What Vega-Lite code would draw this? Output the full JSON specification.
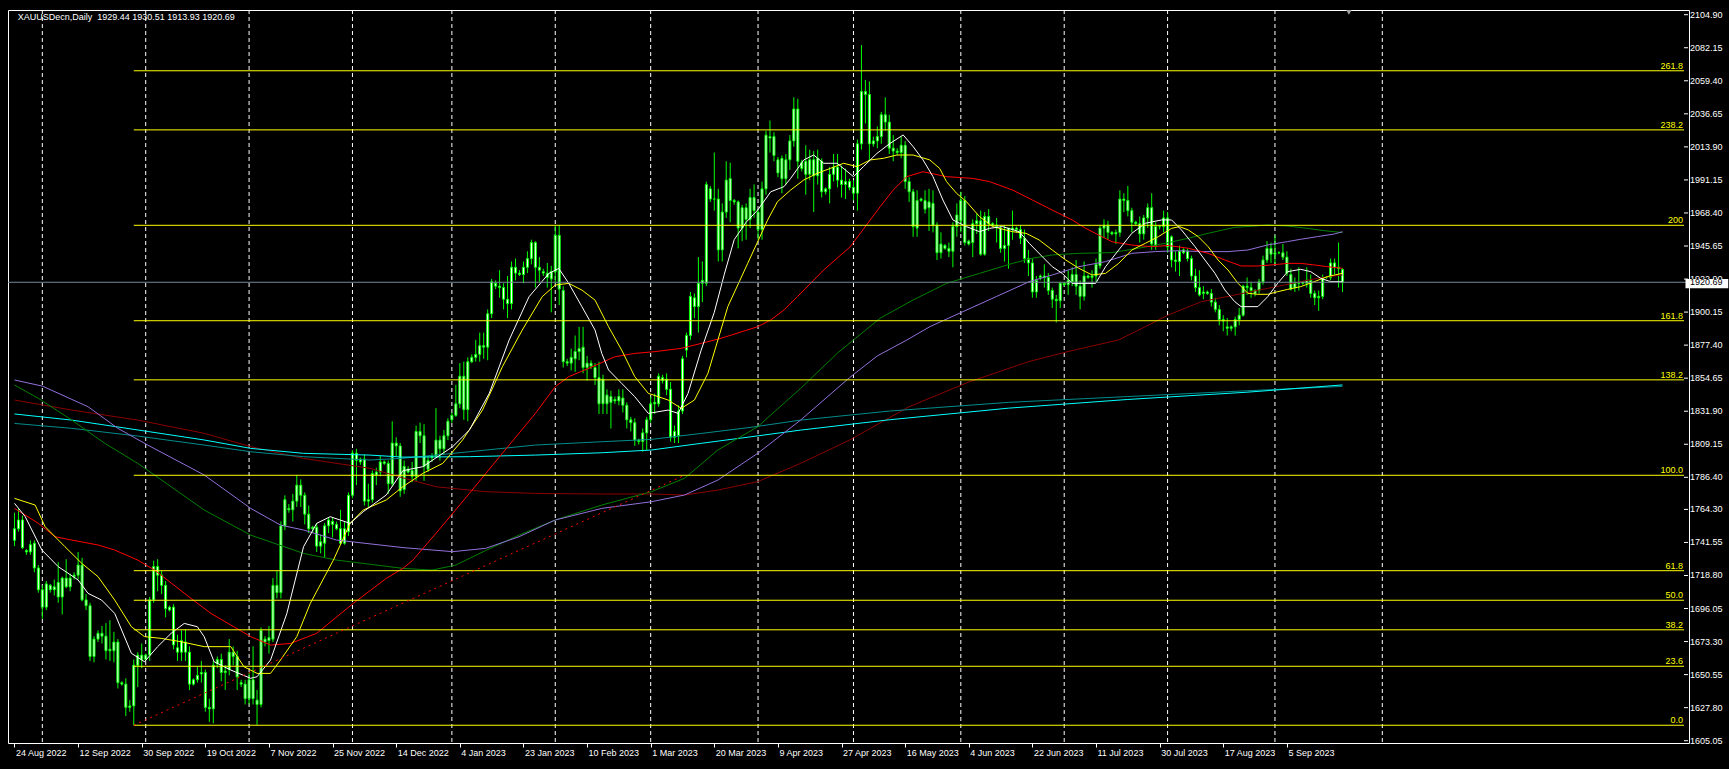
{
 "$schema": "https://vega.github.io/schema/vega-lite/v6.json",
 "width": 1681, "height": 733,
 "autosize": {"type": "none"},
 "padding": {"left": 8, "top": 10, "right": 40, "bottom": 26},
 "background": "#000000",
 "config": {"view": {"stroke": "#ffffff", "strokeWidth": 1, "fill": "#000000"},
   "axis": {"domain": false, "grid": false, "labelColor": "#ffffff", "tickColor": "#ffffff", "labelFont": "Liberation Sans", "labelFontSize": 9, "labelOverlap": false, "labelFlush": false, "tickSize": 4, "title": null}},
 "datasets": {
  "candles": [
{"i":0,"o":1743,"h":1762,"l":1739,"c":1751},{"i":1,"o":1751,"h":1765,"l":1749,"c":1757},{"i":2,"o":1757,"h":1760,"l":1737,"c":1738},{"i":3,"o":1736,"h":1737,"l":1733,"c":1735},{"i":4,"o":1735,"h":1743,"l":1733,"c":1740},{"i":5,"o":1741,"h":1743,"l":1721,"c":1724},{"i":6,"o":1724,"h":1726,"l":1707,"c":1709},{"i":7,"o":1709,"h":1712,"l":1689,"c":1697},{"i":8,"o":1697,"h":1715,"l":1695,"c":1713},{"i":9,"o":1712,"h":1713,"l":1707,"c":1709},
{"i":10,"o":1709,"h":1716,"l":1705,"c":1711},{"i":11,"o":1714,"h":1728,"l":1700,"c":1704},{"i":12,"o":1704,"h":1718,"l":1692,"c":1717},{"i":13,"o":1717,"h":1730,"l":1710,"c":1711},{"i":14,"o":1711,"h":1720,"l":1708,"c":1717},{"i":15,"o":1718,"h":1721,"l":1716,"c":1719},{"i":16,"o":1719,"h":1735,"l":1716,"c":1726},{"i":17,"o":1726,"h":1731,"l":1701,"c":1702},{"i":18,"o":1702,"h":1706,"l":1695,"c":1698},{"i":19,"o":1698,"h":1700,"l":1660,"c":1663},
{"i":20,"o":1663,"h":1677,"l":1659,"c":1675},{"i":21,"o":1675,"h":1681,"l":1673,"c":1679},{"i":22,"o":1679,"h":1684,"l":1672,"c":1677},{"i":23,"o":1677,"h":1686,"l":1661,"c":1667},{"i":24,"o":1667,"h":1688,"l":1660,"c":1668},{"i":25,"o":1667,"h":1680,"l":1659,"c":1673},{"i":26,"o":1673,"h":1675,"l":1641,"c":1645},{"i":27,"o":1645,"h":1646,"l":1643,"c":1644},{"i":28,"o":1644,"h":1648,"l":1622,"c":1628},{"i":29,"o":1628,"h":1633,"l":1625,"c":1629},
{"i":30,"o":1629,"h":1661,"l":1615.7,"c":1657},{"i":31,"o":1657,"h":1666,"l":1642,"c":1664},{"i":32,"o":1664,"h":1672,"l":1655,"c":1661},{"i":33,"o":1661,"h":1665,"l":1660,"c":1664},{"i":34,"o":1664,"h":1704,"l":1660,"c":1702},{"i":35,"o":1702,"h":1729,"l":1700,"c":1725},{"i":36,"o":1725,"h":1730,"l":1708,"c":1719},{"i":37,"o":1719,"h":1722,"l":1706,"c":1712},{"i":38,"o":1712,"h":1715,"l":1690,"c":1696},{"i":39,"o":1695,"h":1698,"l":1694,"c":1697},
{"i":40,"o":1697,"h":1699,"l":1668,"c":1671},{"i":41,"o":1669,"h":1678,"l":1660,"c":1666},{"i":42,"o":1666,"h":1681,"l":1660,"c":1674},{"i":43,"o":1673,"h":1682,"l":1660,"c":1666},{"i":44,"o":1666,"h":1670,"l":1640,"c":1644},{"i":45,"o":1644,"h":1648,"l":1643,"c":1647},{"i":46,"o":1647,"h":1656,"l":1645,"c":1650},{"i":47,"o":1651,"h":1660,"l":1645,"c":1652},{"i":48,"o":1652,"h":1654,"l":1625,"c":1628},{"i":49,"o":1628,"h":1634,"l":1618,"c":1627},
{"i":50,"o":1627,"h":1660,"l":1617,"c":1657},{"i":51,"o":1658,"h":1663,"l":1655,"c":1661},{"i":52,"o":1661,"h":1665,"l":1646,"c":1652},{"i":53,"o":1652,"h":1657,"l":1640,"c":1653},{"i":54,"o":1654,"h":1675,"l":1650,"c":1666},{"i":55,"o":1666,"h":1670,"l":1657,"c":1663},{"i":56,"o":1663,"h":1667,"l":1640,"c":1649},{"i":57,"o":1645,"h":1647,"l":1642,"c":1644},{"i":58,"o":1644,"h":1647,"l":1630,"c":1634},{"i":59,"o":1634,"h":1652,"l":1630,"c":1647},
{"i":60,"o":1647,"h":1670,"l":1630,"c":1634},{"i":61,"o":1633,"h":1640,"l":1616,"c":1630},{"i":62,"o":1630,"h":1683,"l":1628,"c":1681},{"i":63,"o":1675,"h":1677,"l":1670,"c":1673},{"i":64,"o":1674,"h":1684,"l":1665,"c":1676},{"i":65,"o":1675,"h":1717,"l":1673,"c":1712},{"i":66,"o":1712,"h":1722,"l":1703,"c":1707},{"i":67,"o":1707,"h":1756,"l":1703,"c":1753},{"i":68,"o":1753,"h":1774,"l":1750,"c":1771},{"i":69,"o":1765,"h":1768,"l":1762,"c":1764},
{"i":70,"o":1764,"h":1775,"l":1756,"c":1770},{"i":71,"o":1770,"h":1788,"l":1766,"c":1781},{"i":72,"o":1781,"h":1785,"l":1766,"c":1774},{"i":73,"o":1774,"h":1776,"l":1754,"c":1761},{"i":74,"o":1761,"h":1767,"l":1748,"c":1751},{"i":75,"o":1751,"h":1753,"l":1748,"c":1752},{"i":76,"o":1752,"h":1755,"l":1735,"c":1739},{"i":77,"o":1739,"h":1747,"l":1734,"c":1742},{"i":78,"o":1741,"h":1755,"l":1731,"c":1753},{"i":79,"o":1753,"h":1759,"l":1748,"c":1757},
{"i":80,"o":1756,"h":1759,"l":1745,"c":1754},{"i":81,"o":1754,"h":1756,"l":1750,"c":1751},{"i":82,"o":1751,"h":1764,"l":1740,"c":1741},{"i":83,"o":1741,"h":1756,"l":1740,"c":1751},{"i":84,"o":1749,"h":1776,"l":1746,"c":1774},{"i":85,"o":1774,"h":1805,"l":1772,"c":1803},{"i":86,"o":1803,"h":1806,"l":1781,"c":1798},{"i":87,"o":1797,"h":1800,"l":1795,"c":1799},{"i":88,"o":1799,"h":1802,"l":1767,"c":1770},{"i":89,"o":1770,"h":1782,"l":1766,"c":1771},
{"i":90,"o":1771,"h":1791,"l":1769,"c":1789},{"i":91,"o":1788,"h":1793,"l":1781,"c":1790},{"i":92,"o":1790,"h":1801,"l":1787,"c":1797},{"i":93,"o":1797,"h":1798,"l":1795,"c":1796},{"i":94,"o":1796,"h":1798,"l":1775,"c":1782},{"i":95,"o":1782,"h":1825,"l":1780,"c":1810},{"i":96,"o":1810,"h":1814,"l":1801,"c":1808},{"i":97,"o":1808,"h":1810,"l":1773,"c":1777},{"i":98,"o":1778,"h":1798,"l":1775,"c":1794},{"i":99,"o":1792,"h":1794,"l":1789,"c":1790},
{"i":100,"o":1791,"h":1797,"l":1783,"c":1787},{"i":101,"o":1787,"h":1822,"l":1784,"c":1818},{"i":102,"o":1818,"h":1824,"l":1810,"c":1815},{"i":103,"o":1815,"h":1823,"l":1784,"c":1794},{"i":104,"o":1792,"h":1801,"l":1790,"c":1798},{"i":105,"o":1800,"h":1803,"l":1797,"c":1801},{"i":106,"o":1801,"h":1834,"l":1800,"c":1812},{"i":107,"o":1812,"h":1815,"l":1798,"c":1806},{"i":108,"o":1806,"h":1819,"l":1802,"c":1815},{"i":109,"o":1815,"h":1827,"l":1812,"c":1825},
{"i":110,"o":1826,"h":1831,"l":1824,"c":1829},{"i":111,"o":1829,"h":1850,"l":1828,"c":1837},{"i":112,"o":1837,"h":1865,"l":1834,"c":1856},{"i":113,"o":1856,"h":1866,"l":1826,"c":1833},{"i":114,"o":1833,"h":1869,"l":1825,"c":1866},{"i":115,"o":1866,"h":1871,"l":1865,"c":1869},{"i":116,"o":1869,"h":1881,"l":1866,"c":1871},{"i":117,"o":1871,"h":1886,"l":1866,"c":1877},{"i":118,"o":1877,"h":1886,"l":1868,"c":1876},{"i":119,"o":1876,"h":1902,"l":1867,"c":1899},
{"i":120,"o":1899,"h":1923,"l":1896,"c":1921},{"i":121,"o":1920,"h":1922,"l":1916,"c":1918},{"i":122,"o":1918,"h":1929,"l":1910,"c":1917},{"i":123,"o":1917,"h":1920,"l":1902,"c":1909},{"i":124,"o":1909,"h":1925,"l":1896,"c":1906},{"i":125,"o":1906,"h":1935,"l":1902,"c":1931},{"i":126,"o":1931,"h":1937,"l":1922,"c":1927},{"i":127,"o":1927,"h":1929,"l":1925,"c":1926},{"i":128,"o":1926,"h":1935,"l":1920,"c":1931},{"i":129,"o":1931,"h":1942,"l":1927,"c":1937},
{"i":130,"o":1937,"h":1950,"l":1933,"c":1948},{"i":131,"o":1948,"h":1949,"l":1917,"c":1931},{"i":132,"o":1931,"h":1938,"l":1921,"c":1929},{"i":133,"o":1928,"h":1930,"l":1925,"c":1927},{"i":134,"o":1927,"h":1934,"l":1917,"c":1924},{"i":135,"o":1923,"h":1932,"l":1900,"c":1928},{"i":136,"o":1928,"h":1960,"l":1920,"c":1953},{"i":137,"o":1953,"h":1960,"l":1905,"c":1916},{"i":138,"o":1915,"h":1918,"l":1862,"c":1866},{"i":139,"o":1866,"h":1868,"l":1863,"c":1865},
{"i":140,"o":1865,"h":1875,"l":1860,"c":1869},{"i":141,"o":1868,"h":1884,"l":1859,"c":1873},{"i":142,"o":1873,"h":1890,"l":1867,"c":1875},{"i":143,"o":1876,"h":1890,"l":1858,"c":1862},{"i":144,"o":1862,"h":1870,"l":1853,"c":1865},{"i":145,"o":1865,"h":1867,"l":1861,"c":1863},{"i":146,"o":1862,"h":1865,"l":1850,"c":1855},{"i":147,"o":1855,"h":1866,"l":1830,"c":1837},{"i":148,"o":1854,"h":1857,"l":1830,"c":1837},{"i":149,"o":1837,"h":1847,"l":1830,"c":1843},
{"i":150,"o":1842,"h":1846,"l":1820,"c":1838},{"i":151,"o":1840,"h":1842,"l":1837,"c":1839},{"i":152,"o":1839,"h":1847,"l":1836,"c":1842},{"i":153,"o":1841,"h":1847,"l":1831,"c":1836},{"i":154,"o":1836,"h":1838,"l":1820,"c":1826},{"i":155,"o":1826,"h":1828,"l":1818,"c":1824},{"i":156,"o":1824,"h":1827,"l":1808,"c":1812},{"i":157,"o":1812,"h":1813,"l":1809,"c":1811},{"i":158,"o":1811,"h":1820,"l":1804,"c":1817},{"i":159,"o":1817,"h":1828,"l":1805,"c":1826},
{"i":160,"o":1826,"h":1842,"l":1824,"c":1837},{"i":161,"o":1837,"h":1844,"l":1830,"c":1838},{"i":162,"o":1837,"h":1858,"l":1835,"c":1856},{"i":163,"o":1855,"h":1857,"l":1851,"c":1853},{"i":164,"o":1854,"h":1858,"l":1843,"c":1847},{"i":165,"o":1847,"h":1852,"l":1811,"c":1814},{"i":166,"o":1814,"h":1822,"l":1810,"c":1818},{"i":167,"o":1815,"h":1836,"l":1810,"c":1832},{"i":168,"o":1832,"h":1870,"l":1830,"c":1868},{"i":169,"o":1874,"h":1886,"l":1869,"c":1884},
{"i":170,"o":1884,"h":1914,"l":1881,"c":1911},{"i":171,"o":1910,"h":1913,"l":1896,"c":1904},{"i":172,"o":1904,"h":1938,"l":1886,"c":1920},{"i":173,"o":1920,"h":1935,"l":1907,"c":1922},{"i":174,"o":1920,"h":1990,"l":1918,"c":1988},{"i":175,"o":1985,"h":1987,"l":1976,"c":1978},{"i":176,"o":1978,"h":2010,"l":1970,"c":1978},{"i":177,"o":1978,"h":1985,"l":1935,"c":1943},{"i":178,"o":1943,"h":1975,"l":1935,"c":1969},{"i":179,"o":1969,"h":2004,"l":1965,"c":1991},
{"i":180,"o":1992,"h":2003,"l":1962,"c":1977},{"i":181,"o":1977,"h":1978,"l":1974,"c":1976},{"i":182,"o":1976,"h":1977,"l":1944,"c":1958},{"i":183,"o":1958,"h":1974,"l":1949,"c":1972},{"i":184,"o":1972,"h":1975,"l":1950,"c":1964},{"i":185,"o":1964,"h":1985,"l":1958,"c":1979},{"i":186,"o":1979,"h":1988,"l":1965,"c":1970},{"i":187,"o":1969,"h":1971,"l":1950,"c":1957},{"i":188,"o":1957,"h":1990,"l":1950,"c":1985},{"i":189,"o":1985,"h":2025,"l":1981,"c":2022},
{"i":190,"o":2021,"h":2032,"l":2010,"c":2020},{"i":191,"o":2021,"h":2024,"l":2004,"c":2008},{"i":192,"o":2005,"h":2007,"l":1993,"c":1996},{"i":193,"o":2006,"h":2008,"l":1982,"c":1992},{"i":194,"o":1992,"h":2009,"l":1988,"c":2005},{"i":195,"o":2005,"h":2022,"l":1998,"c":2018},{"i":196,"o":2018,"h":2048,"l":2014,"c":2040},{"i":197,"o":2040,"h":2047,"l":1992,"c":2004},{"i":198,"o":2003,"h":2005,"l":1997,"c":1999},{"i":199,"o":2004,"h":2015,"l":1981,"c":1995},
{"i":200,"o":1995,"h":2012,"l":1991,"c":2005},{"i":201,"o":2005,"h":2011,"l":1969,"c":1994},{"i":202,"o":1994,"h":2012,"l":1988,"c":2006},{"i":203,"o":2004,"h":2006,"l":1979,"c":1983},{"i":204,"o":1983,"h":1986,"l":1981,"c":1985},{"i":205,"o":1985,"h":2000,"l":1975,"c":1995},{"i":206,"o":1995,"h":2009,"l":1990,"c":2000},{"i":207,"o":2000,"h":2009,"l":1986,"c":1991},{"i":208,"o":1991,"h":2001,"l":1979,"c":1988},{"i":209,"o":1988,"h":1999,"l":1978,"c":1990},
{"i":210,"o":1990,"h":1992,"l":1984,"c":1986},{"i":211,"o":1986,"h":1991,"l":1977,"c":1982},{"i":212,"o":1982,"h":2019,"l":1970,"c":2016},{"i":213,"o":2016,"h":2084,"l":2012,"c":2052},{"i":214,"o":2052,"h":2060,"l":2030,"c":2050},{"i":215,"o":2050,"h":2059,"l":2004,"c":2016},{"i":216,"o":2016,"h":2021,"l":2014,"c":2018},{"i":217,"o":2018,"h":2028,"l":2013,"c":2021},{"i":218,"o":2021,"h":2038,"l":2016,"c":2036},{"i":219,"o":2036,"h":2048,"l":2025,"c":2031},
{"i":220,"o":2031,"h":2036,"l":2009,"c":2013},{"i":221,"o":2013,"h":2022,"l":2004,"c":2011},{"i":222,"o":2011,"h":2013,"l":2008,"c":2010},{"i":223,"o":2010,"h":2021,"l":2006,"c":2015},{"i":224,"o":2015,"h":2018,"l":1985,"c":1990},{"i":225,"o":1990,"h":1993,"l":1976,"c":1983},{"i":226,"o":1983,"h":1985,"l":1952,"c":1959},{"i":227,"o":1958,"h":1984,"l":1952,"c":1977},{"i":228,"o":1978,"h":1979,"l":1976,"c":1977},{"i":229,"o":1977,"h":1984,"l":1968,"c":1971},
{"i":230,"o":1972,"h":1985,"l":1956,"c":1976},{"i":231,"o":1975,"h":1984,"l":1955,"c":1960},{"i":232,"o":1960,"h":1962,"l":1936,"c":1941},{"i":233,"o":1941,"h":1955,"l":1937,"c":1947},{"i":234,"o":1946,"h":1947,"l":1943,"c":1944},{"i":235,"o":1944,"h":1948,"l":1938,"c":1942},{"i":236,"o":1942,"h":1962,"l":1931,"c":1959},{"i":237,"o":1959,"h":1975,"l":1952,"c":1967},{"i":238,"o":1963,"h":1983,"l":1955,"c":1977},{"i":239,"o":1977,"h":1980,"l":1946,"c":1948},
{"i":240,"o":1949,"h":1950,"l":1946,"c":1947},{"i":241,"o":1948,"h":1964,"l":1938,"c":1961},{"i":242,"o":1961,"h":1968,"l":1954,"c":1963},{"i":243,"o":1963,"h":1970,"l":1939,"c":1940},{"i":244,"o":1940,"h":1969,"l":1939,"c":1966},{"i":245,"o":1966,"h":1971,"l":1956,"c":1961},{"i":246,"o":1961,"h":1962,"l":1959,"c":1960},{"i":247,"o":1960,"h":1965,"l":1948,"c":1959},{"i":248,"o":1958,"h":1960,"l":1941,"c":1944},{"i":249,"o":1944,"h":1960,"l":1935,"c":1946},
{"i":250,"o":1946,"h":1958,"l":1930,"c":1958},{"i":251,"o":1958,"h":1970,"l":1950,"c":1957},{"i":252,"o":1957,"h":1959,"l":1955,"c":1958},{"i":253,"o":1957,"h":1960,"l":1947,"c":1951},{"i":254,"o":1951,"h":1957,"l":1934,"c":1937},{"i":255,"o":1937,"h":1943,"l":1925,"c":1934},{"i":256,"o":1934,"h":1937,"l":1910,"c":1914},{"i":257,"o":1914,"h":1925,"l":1910,"c":1922},{"i":258,"o":1924,"h":1926,"l":1922,"c":1925},{"i":259,"o":1925,"h":1933,"l":1917,"c":1924},
{"i":260,"o":1924,"h":1927,"l":1912,"c":1915},{"i":261,"o":1915,"h":1917,"l":1903,"c":1909},{"i":262,"o":1909,"h":1912,"l":1893,"c":1908},{"i":263,"o":1908,"h":1921,"l":1903,"c":1920},{"i":264,"o":1920,"h":1921,"l":1918,"c":1919},{"i":265,"o":1919,"h":1929,"l":1912,"c":1922},{"i":266,"o":1921,"h":1931,"l":1918,"c":1926},{"i":267,"o":1926,"h":1936,"l":1912,"c":1918},{"i":268,"o":1918,"h":1922,"l":1902,"c":1911},{"i":269,"o":1911,"h":1935,"l":1908,"c":1925},
{"i":270,"o":1925,"h":1926,"l":1923,"c":1924},{"i":271,"o":1924,"h":1929,"l":1917,"c":1925},{"i":272,"o":1925,"h":1937,"l":1921,"c":1933},{"i":273,"o":1932,"h":1960,"l":1930,"c":1958},{"i":274,"o":1958,"h":1964,"l":1951,"c":1960},{"i":275,"o":1960,"h":1963,"l":1950,"c":1955},{"i":276,"o":1955,"h":1956,"l":1953,"c":1954},{"i":277,"o":1954,"h":1957,"l":1947,"c":1955},{"i":278,"o":1955,"h":1984,"l":1952,"c":1978},{"i":279,"o":1978,"h":1982,"l":1969,"c":1977},
{"i":280,"o":1977,"h":1987,"l":1966,"c":1970},{"i":281,"o":1970,"h":1972,"l":1955,"c":1962},{"i":282,"o":1962,"h":1963,"l":1960,"c":1961},{"i":283,"o":1961,"h":1966,"l":1948,"c":1954},{"i":284,"o":1954,"h":1967,"l":1950,"c":1965},{"i":285,"o":1965,"h":1975,"l":1958,"c":1972},{"i":286,"o":1972,"h":1982,"l":1943,"c":1947},{"i":287,"o":1946,"h":1962,"l":1943,"c":1959},{"i":288,"o":1959,"h":1960,"l":1957,"c":1959},{"i":289,"o":1959,"h":1970,"l":1955,"c":1965},
{"i":290,"o":1965,"h":1969,"l":1941,"c":1945},{"i":291,"o":1952,"h":1953,"l":1931,"c":1936},{"i":292,"o":1936,"h":1942,"l":1928,"c":1935},{"i":293,"o":1935,"h":1946,"l":1925,"c":1942},{"i":294,"o":1943,"h":1944,"l":1940,"c":1941},{"i":295,"o":1942,"h":1944,"l":1935,"c":1937},{"i":296,"o":1937,"h":1939,"l":1922,"c":1925},{"i":297,"o":1925,"h":1930,"l":1914,"c":1917},{"i":298,"o":1917,"h":1929,"l":1911,"c":1912},{"i":299,"o":1913,"h":1918,"l":1909,"c":1914},
{"i":300,"o":1914,"h":1915,"l":1912,"c":1913},{"i":301,"o":1913,"h":1916,"l":1904,"c":1907},{"i":302,"o":1907,"h":1910,"l":1900,"c":1902},{"i":303,"o":1902,"h":1905,"l":1891,"c":1895},{"i":304,"o":1895,"h":1898,"l":1887,"c":1894},{"i":305,"o":1890,"h":1896,"l":1884,"c":1889},{"i":306,"o":1889,"h":1891,"l":1887,"c":1890},{"i":307,"o":1890,"h":1897,"l":1884,"c":1895},{"i":308,"o":1895,"h":1903,"l":1891,"c":1898},{"i":309,"o":1898,"h":1919,"l":1897,"c":1918},
{"i":310,"o":1918,"h":1924,"l":1912,"c":1917},{"i":311,"o":1917,"h":1921,"l":1910,"c":1915},{"i":312,"o":1915,"h":1916,"l":1911,"c":1913},{"i":313,"o":1915,"h":1923,"l":1913,"c":1921},{"i":314,"o":1921,"h":1939,"l":1919,"c":1936},{"i":315,"o":1936,"h":1949,"l":1934,"c":1944},{"i":316,"o":1944,"h":1948,"l":1934,"c":1940},{"i":317,"o":1940,"h":1953,"l":1933,"c":1941},{"i":318,"o":1941,"h":1942,"l":1940,"c":1941},{"i":319,"o":1941,"h":1947,"l":1936,"c":1938},
{"i":320,"o":1938,"h":1942,"l":1925,"c":1927},{"i":321,"o":1926,"h":1930,"l":1915,"c":1916},{"i":322,"o":1917,"h":1924,"l":1914,"c":1920},{"i":323,"o":1920,"h":1931,"l":1915,"c":1920},{"i":324,"o":1920,"h":1921,"l":1919,"c":1921},{"i":325,"o":1920,"h":1931,"l":1917,"c":1922},{"i":326,"o":1922,"h":1926,"l":1910,"c":1913},{"i":327,"o":1913,"h":1915,"l":1905,"c":1910},{"i":328,"o":1910,"h":1915,"l":1901,"c":1911},{"i":329,"o":1911,"h":1926,"l":1909,"c":1924},
{"i":330,"o":1924,"h":1925,"l":1923,"c":1924},{"i":331,"o":1924,"h":1937,"l":1922,"c":1934},{"i":332,"o":1934,"h":1937,"l":1926,"c":1931},{"i":333,"o":1931,"h":1948,"l":1917,"c":1930},{"i":334,"o":1929.44,"h":1930.51,"l":1913.93,"c":1920.69}
  ],
  "ma": [
{"s":"m","i":0,"p":1839.6},{"s":"m","i":14.4,"p":1832.7},{"s":"m","i":31,"p":1825.8},{"s":"m","i":47.7,"p":1816.7},{"s":"m","i":59.4,"p":1807.5},{"s":"m","i":72.7,"p":1799.4},{"s":"m","i":89.4,"p":1792.6},{"s":"m","i":97.7,"p":1786},{"s":"m","i":106,"p":1779.9},{"s":"m","i":118.5,"p":1776.5},{"s":"m","i":131,"p":1775.3},{"s":"m","i":147.7,"p":1774.9},{"s":"m","i":160.2,"p":1774.9},{"s":"m","i":168.5,"p":1774.2},{"s":"m","i":176.9,"p":1777.6},{"s":"m","i":186.9,"p":1783.4},{"s":"m","i":197.7,"p":1796},{"s":"m","i":210,"p":1812},{"s":"m","i":225,"p":1835},{"s":"m","i":240,"p":1852},{"s":"m","i":255,"p":1866},{"s":"m","i":265,"p":1873},{"s":"m","i":277.7,"p":1881},{"s":"m","i":284.4,"p":1890.1},{"s":"m","i":290.2,"p":1898.2},{"s":"m","i":294.4,"p":1902.8},{"s":"m","i":298.5,"p":1907.3},{"s":"m","i":302.7,"p":1909.6},{"s":"m","i":306.9,"p":1911.9},{"s":"m","i":311,"p":1914.2},{"s":"m","i":315.2,"p":1916.5},{"s":"m","i":319.4,"p":1918.8},{"s":"m","i":323.5,"p":1921.1},{"s":"m","i":327.7,"p":1923.4},{"s":"m","i":331.9,"p":1925},{"s":"m","i":334,"p":1925.7},
{"s":"t","i":0,"p":1823.5},{"s":"t","i":14.4,"p":1820.1},{"s":"t","i":31,"p":1814.8},{"s":"t","i":47.7,"p":1808.6},{"s":"t","i":59.4,"p":1804},{"s":"t","i":72.7,"p":1800.6},{"s":"t","i":89.4,"p":1798.3},{"s":"t","i":97.7,"p":1799.5},{"s":"t","i":114.4,"p":1804},{"s":"t","i":131,"p":1808.6},{"s":"t","i":147.7,"p":1810.9},{"s":"t","i":160.2,"p":1812.5},{"s":"t","i":172.7,"p":1816.6},{"s":"t","i":185.2,"p":1820.8},{"s":"t","i":197.7,"p":1825.8},{"s":"t","i":220,"p":1832},{"s":"t","i":250,"p":1838},{"s":"t","i":280,"p":1842},{"s":"t","i":310,"p":1846},{"s":"t","i":334,"p":1849},
{"s":"c","i":0,"p":1830},{"s":"c","i":14.4,"p":1825.8},{"s":"c","i":31,"p":1819},{"s":"c","i":47.7,"p":1812.1},{"s":"c","i":59.4,"p":1806.3},{"s":"c","i":72.7,"p":1802.9},{"s":"c","i":89.4,"p":1801.7},{"s":"c","i":97.7,"p":1800.3},{"s":"c","i":114.4,"p":1800.6},{"s":"c","i":131,"p":1801.7},{"s":"c","i":147.7,"p":1803.3},{"s":"c","i":160.2,"p":1805.2},{"s":"c","i":172.7,"p":1809.8},{"s":"c","i":185.2,"p":1814.3},{"s":"c","i":197.7,"p":1818.9},{"s":"c","i":220,"p":1826},{"s":"c","i":250,"p":1834},{"s":"c","i":280,"p":1840},{"s":"c","i":310,"p":1845},{"s":"c","i":334,"p":1850},
{"s":"g","i":0,"p":1849.9},{"s":"g","i":6,"p":1840.8},{"s":"g","i":14.4,"p":1825.8},{"s":"g","i":22.7,"p":1809.8},{"s":"g","i":31,"p":1796},{"s":"g","i":39.4,"p":1779.9},{"s":"g","i":47.7,"p":1763.9},{"s":"g","i":59.4,"p":1746.6},{"s":"g","i":72.7,"p":1734},{"s":"g","i":81,"p":1729.4},{"s":"g","i":97.7,"p":1723.7},{"s":"g","i":105,"p":1722.5},{"s":"g","i":111,"p":1726},{"s":"g","i":118.5,"p":1736},{"s":"g","i":126.9,"p":1746.6},{"s":"g","i":136,"p":1757},{"s":"g","i":147.7,"p":1767.3},{"s":"g","i":160.2,"p":1776.5},{"s":"g","i":168.5,"p":1785.7},{"s":"g","i":176.9,"p":1805.2},{"s":"g","i":186.9,"p":1821.2},{"s":"g","i":197.7,"p":1847.6},{"s":"g","i":207,"p":1872},{"s":"g","i":217.7,"p":1895.9},{"s":"g","i":226,"p":1908.5},{"s":"g","i":234.4,"p":1919.9},{"s":"g","i":242.7,"p":1926.8},{"s":"g","i":251,"p":1933.7},{"s":"g","i":256,"p":1937.2},{"s":"g","i":261,"p":1939.5},{"s":"g","i":267.7,"p":1940.6},{"s":"g","i":276,"p":1941.1},{"s":"g","i":282.7,"p":1944.1},{"s":"g","i":289.4,"p":1947.5},{"s":"g","i":295.2,"p":1951},{"s":"g","i":300.2,"p":1954.4},{"s":"g","i":306.9,"p":1958.5},{"s":"g","i":311.9,"p":1959.4},{"s":"g","i":315.2,"p":1960.1},{"s":"g","i":320.2,"p":1959.4},{"s":"g","i":325.2,"p":1957.8},{"s":"g","i":329.4,"p":1956.2},{"s":"g","i":334,"p":1954.9},
{"s":"pu","i":0,"p":1853.4},{"s":"pu","i":7,"p":1849.2},{"s":"pu","i":18.5,"p":1835},{"s":"pu","i":26,"p":1820.1},{"s":"pu","i":33.5,"p":1808.6},{"s":"pu","i":47.7,"p":1788},{"s":"pu","i":59.4,"p":1765},{"s":"pu","i":66.9,"p":1753.5},{"s":"pu","i":72.7,"p":1750.1},{"s":"pu","i":81,"p":1743.2},{"s":"pu","i":97.7,"p":1738},{"s":"pu","i":110.2,"p":1735.2},{"s":"pu","i":118.5,"p":1737.5},{"s":"pu","i":126.9,"p":1745.5},{"s":"pu","i":136,"p":1757},{"s":"pu","i":147.7,"p":1765},{"s":"pu","i":160.2,"p":1769.6},{"s":"pu","i":168.5,"p":1774.2},{"s":"pu","i":176.9,"p":1784.5},{"s":"pu","i":186.9,"p":1802.9},{"s":"pu","i":197.7,"p":1825.8},{"s":"pu","i":210,"p":1855},{"s":"pu","i":217,"p":1870},{"s":"pu","i":224.4,"p":1880.9},{"s":"pu","i":230.2,"p":1890.1},{"s":"pu","i":238.5,"p":1900.4},{"s":"pu","i":246.9,"p":1910.8},{"s":"pu","i":255.2,"p":1921.1},{"s":"pu","i":261,"p":1925.7},{"s":"pu","i":267.7,"p":1931.4},{"s":"pu","i":274.4,"p":1934.9},{"s":"pu","i":281,"p":1940.6},{"s":"pu","i":286.9,"p":1941.8},{"s":"pu","i":292.7,"p":1942.4},{"s":"pu","i":298.5,"p":1941.8},{"s":"pu","i":305.2,"p":1941.8},{"s":"pu","i":310.2,"p":1942.9},{"s":"pu","i":315.2,"p":1946.4},{"s":"pu","i":320.2,"p":1948.7},{"s":"pu","i":323.5,"p":1950.3},{"s":"pu","i":327.7,"p":1952.1},{"s":"pu","i":331.9,"p":1953.9},{"s":"pu","i":334,"p":1955.5},
{"s":"r","i":0,"p":1765},{"s":"r","i":6,"p":1754.7},{"s":"r","i":10.2,"p":1745.5},{"s":"r","i":14.4,"p":1743.2},{"s":"r","i":21,"p":1739.8},{"s":"r","i":25.2,"p":1736.3},{"s":"r","i":31,"p":1729.4},{"s":"r","i":35.2,"p":1722.6},{"s":"r","i":44.4,"p":1703},{"s":"r","i":49.4,"p":1692.7},{"s":"r","i":59.4,"p":1676.7},{"s":"r","i":64.4,"p":1670.9},{"s":"r","i":69.4,"p":1672},{"s":"r","i":76,"p":1679},{"s":"r","i":85.2,"p":1699.6},{"s":"r","i":93.5,"p":1716.8},{"s":"r","i":97.7,"p":1723.7},{"s":"r","i":100.2,"p":1729.4},{"s":"r","i":106,"p":1747.8},{"s":"r","i":114.4,"p":1775.3},{"s":"r","i":122.7,"p":1802.9},{"s":"r","i":131,"p":1830.4},{"s":"r","i":136,"p":1848.8},{"s":"r","i":139.4,"p":1855.7},{"s":"r","i":144.4,"p":1861.4},{"s":"r","i":151,"p":1869.4},{"s":"r","i":156,"p":1871.7},{"s":"r","i":161,"p":1872.9},{"s":"r","i":167.7,"p":1875.2},{"s":"r","i":172.7,"p":1878.6},{"s":"r","i":177.7,"p":1882.1},{"s":"r","i":186.9,"p":1890.1},{"s":"r","i":190.2,"p":1894.7},{"s":"r","i":193.5,"p":1901.6},{"s":"r","i":196.9,"p":1910.8},{"s":"r","i":203.5,"p":1929.1},{"s":"r","i":210.2,"p":1945.2},{"s":"r","i":215.2,"p":1963.5},{"s":"r","i":217.7,"p":1972.7},{"s":"r","i":221,"p":1984.2},{"s":"r","i":224.4,"p":1993.4},{"s":"r","i":228.5,"p":1996.8},{"s":"r","i":234.4,"p":1993.4},{"s":"r","i":241,"p":1992.2},{"s":"r","i":245.2,"p":1990},{"s":"r","i":251,"p":1984.2},{"s":"r","i":256,"p":1977.3},{"s":"r","i":261,"p":1970.4},{"s":"r","i":266,"p":1963.6},{"s":"r","i":269.4,"p":1957.8},{"s":"r","i":272.7,"p":1953.2},{"s":"r","i":276,"p":1948.6},{"s":"r","i":281,"p":1946.3},{"s":"r","i":286,"p":1945.2},{"s":"r","i":290.2,"p":1946},{"s":"r","i":295.2,"p":1944.1},{"s":"r","i":300.2,"p":1940.6},{"s":"r","i":304.4,"p":1936},{"s":"r","i":308.5,"p":1931.9},{"s":"r","i":312.7,"p":1931.9},{"s":"r","i":316,"p":1932.6},{"s":"r","i":320.2,"p":1933.7},{"s":"r","i":323.5,"p":1933.7},{"s":"r","i":326.9,"p":1932.6},{"s":"r","i":330.2,"p":1931.4},{"s":"r","i":334,"p":1930.3},
{"s":"y","i":0,"p":1771.9},{"s":"y","i":5.2,"p":1767.3},{"s":"y","i":7.7,"p":1752.4},{"s":"y","i":12.7,"p":1738.6},{"s":"y","i":16.9,"p":1727.2},{"s":"y","i":21,"p":1718},{"s":"y","i":25.2,"p":1701.9},{"s":"y","i":29.4,"p":1683.5},{"s":"y","i":32.7,"p":1676.7},{"s":"y","i":36.9,"p":1675.5},{"s":"y","i":41.9,"p":1673.2},{"s":"y","i":47.7,"p":1669.8},{"s":"y","i":54.4,"p":1669.8},{"s":"y","i":57.7,"p":1656},{"s":"y","i":61,"p":1651.4},{"s":"y","i":64.4,"p":1651.4},{"s":"y","i":66.9,"p":1660.6},{"s":"y","i":71,"p":1676.7},{"s":"y","i":74.4,"p":1699.6},{"s":"y","i":80.2,"p":1729.4},{"s":"y","i":84.4,"p":1754.7},{"s":"y","i":87.7,"p":1763.9},{"s":"y","i":93.5,"p":1770.8},{"s":"y","i":97.7,"p":1780},{"s":"y","i":102.7,"p":1789.1},{"s":"y","i":107.7,"p":1796},{"s":"y","i":112.7,"p":1812.1},{"s":"y","i":117.7,"p":1832.7},{"s":"y","i":122.7,"p":1862.5},{"s":"y","i":127.7,"p":1887.8},{"s":"y","i":132.7,"p":1910.7},{"s":"y","i":136,"p":1918.8},{"s":"y","i":139.4,"p":1919.9},{"s":"y","i":142.7,"p":1915.3},{"s":"y","i":146,"p":1908.4},{"s":"y","i":149.4,"p":1890.1},{"s":"y","i":152.7,"p":1874},{"s":"y","i":156,"p":1855.7},{"s":"y","i":159.4,"p":1844.2},{"s":"y","i":164.4,"p":1839.6},{"s":"y","i":167.7,"p":1833.9},{"s":"y","i":171,"p":1839.6},{"s":"y","i":174.4,"p":1858},{"s":"y","i":179.4,"p":1903.9},{"s":"y","i":184.4,"p":1933.7},{"s":"y","i":189.4,"p":1963.5},{"s":"y","i":191.9,"p":1976.2},{"s":"y","i":195.2,"p":1984.2},{"s":"y","i":198.5,"p":1991.1},{"s":"y","i":201.9,"p":1995.7},{"s":"y","i":205.2,"p":1999.1},{"s":"y","i":208.5,"p":2002.6},{"s":"y","i":211.9,"p":2000.3},{"s":"y","i":215.2,"p":2004.9},{"s":"y","i":218.5,"p":2006},{"s":"y","i":221.9,"p":2008.3},{"s":"y","i":226,"p":2008.3},{"s":"y","i":230.2,"p":2004.9},{"s":"y","i":232.7,"p":1999},{"s":"y","i":234.4,"p":1990},{"s":"y","i":236.9,"p":1982},{"s":"y","i":239.4,"p":1976.2},{"s":"y","i":242.7,"p":1965.9},{"s":"y","i":246,"p":1959},{"s":"y","i":251,"p":1955.5},{"s":"y","i":254.4,"p":1954.4},{"s":"y","i":257.7,"p":1949.8},{"s":"y","i":261,"p":1942.9},{"s":"y","i":264.4,"p":1936},{"s":"y","i":267.7,"p":1930.3},{"s":"y","i":271,"p":1925.7},{"s":"y","i":274.4,"p":1926.8},{"s":"y","i":277.7,"p":1933.7},{"s":"y","i":281,"p":1942.9},{"s":"y","i":284.4,"p":1947.5},{"s":"y","i":287.7,"p":1952.1},{"s":"y","i":291,"p":1957.8},{"s":"y","i":293,"p":1959},{"s":"y","i":295.2,"p":1956.7},{"s":"y","i":297.7,"p":1952.1},{"s":"y","i":300.2,"p":1945.2},{"s":"y","i":302.7,"p":1936},{"s":"y","i":305.2,"p":1929.1},{"s":"y","i":307.7,"p":1920},{"s":"y","i":310.2,"p":1913.1},{"s":"y","i":312.7,"p":1912.4},{"s":"y","i":315.2,"p":1912.4},{"s":"y","i":317.7,"p":1914.2},{"s":"y","i":320.2,"p":1915.8},{"s":"y","i":323.5,"p":1917.7},{"s":"y","i":326.9,"p":1921.1},{"s":"y","i":330.2,"p":1924.6},{"s":"y","i":334,"p":1926.9},
{"s":"w","i":0,"p":1768.5},{"s":"w","i":2.7,"p":1759.3},{"s":"w","i":6.9,"p":1736.3},{"s":"w","i":11,"p":1724.9},{"s":"w","i":16,"p":1715.7},{"s":"w","i":18.5,"p":1706.5},{"s":"w","i":21.9,"p":1701.9},{"s":"w","i":25.2,"p":1692.7},{"s":"w","i":29.4,"p":1665.2},{"s":"w","i":32.7,"p":1659.4},{"s":"w","i":36,"p":1669.8},{"s":"w","i":39.4,"p":1679},{"s":"w","i":42.7,"p":1685.8},{"s":"w","i":46,"p":1683.5},{"s":"w","i":47.7,"p":1676.7},{"s":"w","i":50.2,"p":1659.4},{"s":"w","i":54.4,"p":1653.7},{"s":"w","i":59.4,"p":1648},{"s":"w","i":61,"p":1649.1},{"s":"w","i":64.4,"p":1660.6},{"s":"w","i":68.5,"p":1692.7},{"s":"w","i":72.7,"p":1738.6},{"s":"w","i":76,"p":1754.7},{"s":"w","i":79.4,"p":1759.3},{"s":"w","i":84.4,"p":1754.7},{"s":"w","i":87.7,"p":1762.7},{"s":"w","i":93.5,"p":1774.2},{"s":"w","i":97.7,"p":1791},{"s":"w","i":102.7,"p":1793.7},{"s":"w","i":110.2,"p":1807.5},{"s":"w","i":114.4,"p":1818.9},{"s":"w","i":119.4,"p":1844.2},{"s":"w","i":124.4,"p":1880.9},{"s":"w","i":129.4,"p":1910.7},{"s":"w","i":134.4,"p":1926.8},{"s":"w","i":136.9,"p":1930.2},{"s":"w","i":139.4,"p":1919.9},{"s":"w","i":142.7,"p":1903.9},{"s":"w","i":146,"p":1887.8},{"s":"w","i":147.7,"p":1871.7},{"s":"w","i":149.4,"p":1860.3},{"s":"w","i":152.7,"p":1851.1},{"s":"w","i":156,"p":1841.9},{"s":"w","i":159.4,"p":1830.4},{"s":"w","i":164.4,"p":1832.7},{"s":"w","i":166.9,"p":1830.4},{"s":"w","i":169.4,"p":1844.2},{"s":"w","i":172.7,"p":1874},{"s":"w","i":176,"p":1900},{"s":"w","i":178.5,"p":1926},{"s":"w","i":181,"p":1950},{"s":"w","i":184,"p":1962},{"s":"w","i":186.9,"p":1970.4},{"s":"w","i":190.2,"p":1983},{"s":"w","i":193.5,"p":1986.5},{"s":"w","i":195.2,"p":1992.2},{"s":"w","i":198.5,"p":2004.9},{"s":"w","i":201,"p":2008.3},{"s":"w","i":203.5,"p":2002.6},{"s":"w","i":206.9,"p":2002.6},{"s":"w","i":211,"p":1993.4},{"s":"w","i":213.5,"p":2000.3},{"s":"w","i":216.9,"p":2009.4},{"s":"w","i":220.2,"p":2016.3},{"s":"w","i":223.5,"p":2022.1},{"s":"w","i":226,"p":2014.1},{"s":"w","i":228.5,"p":2004.9},{"s":"w","i":231,"p":1993.4},{"s":"w","i":233.5,"p":1977.3},{"s":"w","i":236,"p":1963.6},{"s":"w","i":239.4,"p":1959},{"s":"w","i":242.7,"p":1955.5},{"s":"w","i":245.2,"p":1957.8},{"s":"w","i":248.5,"p":1959},{"s":"w","i":252.7,"p":1955.5},{"s":"w","i":255.2,"p":1947.5},{"s":"w","i":258.5,"p":1938.3},{"s":"w","i":261,"p":1931.4},{"s":"w","i":263.5,"p":1926.8},{"s":"w","i":266,"p":1919.9},{"s":"w","i":268.5,"p":1919.9},{"s":"w","i":271.9,"p":1919.9},{"s":"w","i":274.4,"p":1931.4},{"s":"w","i":277.7,"p":1942.9},{"s":"w","i":281,"p":1954.4},{"s":"w","i":284.4,"p":1961.3},{"s":"w","i":288.5,"p":1963.6},{"s":"w","i":291,"p":1963.6},{"s":"w","i":293.5,"p":1956.7},{"s":"w","i":296.9,"p":1945.2},{"s":"w","i":299.4,"p":1936},{"s":"w","i":301.9,"p":1926.9},{"s":"w","i":304.4,"p":1915.4},{"s":"w","i":306.9,"p":1907.3},{"s":"w","i":308.5,"p":1903.9},{"s":"w","i":312.7,"p":1903.9},{"s":"w","i":315.2,"p":1910.8},{"s":"w","i":317.7,"p":1920},{"s":"w","i":320.2,"p":1928},{"s":"w","i":323.5,"p":1929.6},{"s":"w","i":326,"p":1928},{"s":"w","i":328.5,"p":1923.4},{"s":"w","i":331,"p":1921.1},{"s":"w","i":334,"p":1921.1}
  ],
  "fib": [
{"lvl":"0.0","p":1615.7,"i":30},{"lvl":"23.6","p":1656.3,"i":30},{"lvl":"38.2","p":1681.4,"i":30},{"lvl":"50.0","p":1701.75,"i":30},{"lvl":"61.8","p":1722.1,"i":30},{"lvl":"100.0","p":1787.8,"i":30},{"lvl":"138.2","p":1853.5,"i":30},{"lvl":"161.8","p":1894.2,"i":30},{"lvl":"200","p":1959.9,"i":30},{"lvl":"238.2","p":2025.6,"i":30},{"lvl":"261.8","p":2066.3,"i":30}
  ],
  "yticks": [
{"v":1605.05,"t":"1605.05"},{"v":1627.80,"t":"1627.80"},{"v":1650.55,"t":"1650.55"},{"v":1673.30,"t":"1673.30"},{"v":1696.05,"t":"1696.05"},{"v":1718.80,"t":"1718.80"},{"v":1741.55,"t":"1741.55"},{"v":1764.30,"t":"1764.30"},{"v":1786.40,"t":"1786.40"},{"v":1809.15,"t":"1809.15"},{"v":1831.90,"t":"1831.90"},{"v":1854.65,"t":"1854.65"},{"v":1877.40,"t":"1877.40"},{"v":1900.15,"t":"1900.15"},{"v":1922.90,"t":"1922.90"},{"v":1945.65,"t":"1945.65"},{"v":1968.40,"t":"1968.40"},{"v":1991.15,"t":"1991.15"},{"v":2013.90,"t":"2013.90"},{"v":2036.65,"t":"2036.65"},{"v":2059.40,"t":"2059.40"},{"v":2082.15,"t":"2082.15"},{"v":2104.90,"t":"2104.90"}
  ],
  "grid": [{"i":7},{"i":33},{"i":59},{"i":85},{"i":110},{"i":136},{"i":160},{"i":187},{"i":211},{"i":238},{"i":264},{"i":290},{"i":317},{"i":344}],
  "trend": [{"i":30,"p":1615.7},{"i":168.5,"p":1787.8}]
 },
 "layer": [
  {"data": {"name": "grid"},
   "mark": {"type": "rule", "color": "#ffffff", "strokeWidth": 1, "strokeDash": [4, 3]},
   "encoding": {
    "x": {"field": "i", "type": "quantitative", "title": null,
      "scale": {"domain": [-0.375, 419.875], "nice": false, "zero": false},
      "axis": {"orient": "bottom", "values": [0,16,32,48,64,80,96,112,128,144,160,176,192,208,224,240,256,272,288,304,320],
        "labelExpr": "['24 Aug 2022','12 Sep 2022','30 Sep 2022','19 Oct 2022','7 Nov 2022','25 Nov 2022','14 Dec 2022','4 Jan 2023','23 Jan 2023','10 Feb 2023','1 Mar 2023','20 Mar 2023','9 Apr 2023','27 Apr 2023','16 May 2023','4 Jun 2023','22 Jun 2023','11 Jul 2023','30 Jul 2023','17 Aug 2023','5 Sep 2023'][round(datum.value/16)]",
        "labelAlign": "left", "labelBaseline": "top", "labelOffset": 1, "labelPadding": 1, "tickSize": 4, "labelOverlap": false, "labelFlush": false, "labelBound": false, "title": null}}
   }},
  {"data": {"name": "candles"},
   "mark": {"type": "rule", "color": "#00ff00", "strokeWidth": 1},
   "encoding": {
    "x": {"field": "i", "type": "quantitative", "title": null},
    "y": {"field": "l", "type": "quantitative", "title": null, "axis": null,
      "scale": {"domain": [1603.47, 2108.14], "nice": false, "zero": false}},
    "y2": {"field": "h"}
   }},
  {"data": {"name": "candles"},
   "mark": {"type": "bar", "width": 2, "fill": "#ffffff", "stroke": "#00ff00", "strokeWidth": 1},
   "encoding": {
    "x": {"field": "i", "type": "quantitative", "title": null},
    "y": {"field": "o", "type": "quantitative", "title": null, "axis": null},
    "y2": {"field": "c"}
   }},
  {"data": {"name": "ma"},
   "mark": {"type": "line", "strokeWidth": 1, "interpolate": "linear"},
   "encoding": {
    "x": {"field": "i", "type": "quantitative", "title": null},
    "y": {"field": "p", "type": "quantitative", "title": null, "axis": null},
    "color": {"field": "s", "type": "nominal", "legend": null,
      "scale": {"domain": ["m","t","c","g","pu","r","y","w"], "range": ["#8b0000","#008b8b","#00ffff","#008000","#9370db","#ff0000","#ffff00","#ffffff"]}},
    "order": {"field": "i", "type": "quantitative"}
   }},
  {"data": {"values": [{}]},
   "mark": {"type": "rule", "color": "#778899", "strokeWidth": 1},
   "encoding": {"y": {"datum": 1920.69, "type": "quantitative", "title": null, "axis": null}}},
  {"data": {"name": "fib"},
   "mark": {"type": "rule", "color": "#ffff00", "strokeWidth": 1},
   "encoding": {
    "x": {"field": "i", "type": "quantitative", "title": null},
    "x2": {"datum": 419.875},
    "y": {"field": "p", "type": "quantitative", "title": null, "axis": null}
   }},
  {"data": {"name": "fib"},
   "mark": {"type": "text", "color": "#ffff00", "align": "right", "baseline": "alphabetic", "dy": -2, "font": "Liberation Sans", "fontSize": 9},
   "encoding": {
    "x": {"datum": 419.6, "type": "quantitative", "title": null},
    "y": {"field": "p", "type": "quantitative", "title": null, "axis": null},
    "text": {"field": "lvl"}
   }},
  {"data": {"name": "trend"},
   "mark": {"type": "line", "color": "#ff0000", "strokeWidth": 1, "strokeDash": [2, 4]},
   "encoding": {
    "x": {"field": "i", "type": "quantitative", "title": null},
    "y": {"field": "p", "type": "quantitative", "title": null, "axis": null}
   }},
  {"data": {"values": [{"t": "XAUUSDecn,Daily\u00a0 1929.44 1930.51 1913.93 1920.69"}]},
   "mark": {"type": "text", "color": "#ffffff", "align": "left", "baseline": "middle", "font": "Liberation Sans", "fontSize": 9},
   "encoding": {
    "x": {"datum": 0.8, "type": "quantitative", "title": null},
    "y": {"datum": 2103.3, "type": "quantitative", "title": null, "axis": null},
    "text": {"field": "t"}
   }},
  {"data": {"name": "yticks"},
   "mark": {"type": "rule", "color": "#ffffff", "strokeWidth": 1},
   "encoding": {
    "x": {"datum": 419.875, "type": "quantitative", "title": null},
    "x2": {"datum": 420.875},
    "y": {"field": "v", "type": "quantitative", "title": null, "axis": null}
   }},
  {"data": {"name": "yticks"},
   "mark": {"type": "text", "color": "#ffffff", "align": "left", "baseline": "middle", "font": "Liberation Sans", "fontSize": 9},
   "encoding": {
    "x": {"datum": 421.4, "type": "quantitative", "title": null},
    "y": {"field": "v", "type": "quantitative", "title": null, "axis": null},
    "text": {"field": "t"}
   }},
  {"data": {"values": [{}]},
   "mark": {"type": "rect", "color": "#ffffff"},
   "encoding": {
    "x": {"datum": 420.25, "type": "quantitative", "title": null},
    "x2": {"datum": 431},
    "y": {"datum": 1916.6, "type": "quantitative", "title": null, "axis": null},
    "y2": {"datum": 1923.0}
   }},
  {"data": {"values": [{"t": "1920.69", "p": 1920.69}]},
   "mark": {"type": "text", "color": "#000000", "align": "left", "baseline": "middle", "font": "Liberation Sans", "fontSize": 9},
   "encoding": {
    "x": {"datum": 421.4, "type": "quantitative", "title": null},
    "y": {"field": "p", "type": "quantitative", "title": null, "axis": null},
    "text": {"field": "t"}
   }},
  {"data": {"values": [{}]},
   "mark": {"type": "point", "shape": "triangle-down", "filled": true, "color": "#a0a0a0", "size": 30, "opacity": 1},
   "encoding": {
    "x": {"datum": 335.6, "type": "quantitative", "title": null},
    "y": {"datum": 2106.5, "type": "quantitative", "title": null, "axis": null}
   }}
 ]
}
